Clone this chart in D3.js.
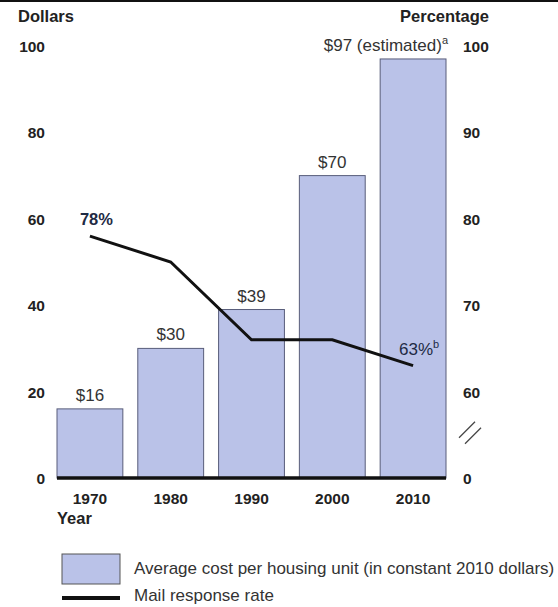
<!DOCTYPE html>
<html>
<head>
<meta charset="utf-8">
<script src="https://cdn.jsdelivr.net/npm/d3@7"></script>
<style>
  body { margin: 0; background: #fff; }
  svg text { font-family: "Liberation Sans", Arial, sans-serif; fill: #222; }
</style>
</head>
<body>
<div id="chart"></div>
<script>
// values
const years = ['1970', '1980', '1990', '2000', '2010'];
const costPerUnit = [16, 30, 39, 70, 97];
const costLabels = ['$16', '$30', '$39', '$70', '$97 (estimated)'];
const costNotes = ['', '', '', '', 'a'];
const responseRate = [78, 75, 66, 66, 63];
const rateLabels = ['78%', '', '', '', '63%'];
const rateNotes = ['', '', '', '', 'b'];
const dollarTicks = [0, 20, 40, 60, 80, 100];
const percentTicks = [60, 70, 80, 90, 100];

const width = 558;
const height = 607;
const plot = { left: 57, right: 446, top: 46, bottom: 478 };

const svg = d3.select('#chart')
  .append('svg')
  .attr('width', width)
  .attr('height', height)
  .attr('viewBox', `0 0 ${width} ${height}`);

// thin rule across the top of the figure
svg.append('line')
  .attr('x1', 0).attr('x2', width)
  .attr('y1', 1).attr('y2', 1)
  .attr('stroke', '#111')
  .attr('stroke-width', 2);

const x = d3.scaleBand()
  .domain(years)
  .range([plot.left, plot.right])
  .paddingInner(0.185)
  .paddingOuter(0);

const y = d3.scaleLinear()
  .domain([0, 100])
  .range([plot.bottom, plot.top]);

// right axis is broken: 60-100 share the pixels of $20-$100
const y2 = d3.scaleLinear()
  .domain([60, 100])
  .range([y(20), y(100)]);

// axis titles
svg.append('text')
  .attr('x', 18).attr('y', 22)
  .attr('font-size', 16.5).attr('font-weight', 'bold')
  .text('Dollars');

svg.append('text')
  .attr('x', 489).attr('y', 22)
  .attr('text-anchor', 'end')
  .attr('font-size', 16.5).attr('font-weight', 'bold')
  .text('Percentage');

// left axis
const leftAxis = svg.append('g')
  .attr('transform', `translate(${plot.left - 12},0)`)
  .call(d3.axisLeft(y).tickValues(dollarTicks).tickSize(0).tickPadding(0));
leftAxis.select('.domain').remove();
leftAxis.selectAll('text')
  .attr('font-size', 15.5).attr('font-weight', 'bold')
  .attr('fill', '#222').attr('dy', '0.36em');

// right axis
const rightAxis = svg.append('g')
  .attr('transform', 'translate(463,0)')
  .call(d3.axisRight(y2).tickValues(percentTicks).tickSize(0).tickPadding(0));
rightAxis.select('.domain').remove();
rightAxis.selectAll('text')
  .attr('font-size', 15.5).attr('font-weight', 'bold')
  .attr('fill', '#222').attr('dy', '0.36em');

svg.append('text')
  .attr('x', 463).attr('y', y(0))
  .attr('dy', '0.36em')
  .attr('font-size', 15.5).attr('font-weight', 'bold')
  .text('0');

// axis break marker
const breakY = (y2(60) + y(0)) / 2 - 2;
[-3, 3].forEach(off => {
  svg.append('line')
    .attr('x1', 462 + off).attr('y1', breakY + 8 + off)
    .attr('x2', 478 + off).attr('y2', breakY - 8 + off)
    .attr('stroke', '#444')
    .attr('stroke-width', 1.3);
});

// bars
const bars = years.map((d, i) => ({ year: d, value: costPerUnit[i], label: costLabels[i], note: costNotes[i] }));

svg.append('g')
  .selectAll('rect')
  .data(bars)
  .join('rect')
  .attr('x', d => x(d.year))
  .attr('y', d => y(d.value))
  .attr('width', x.bandwidth())
  .attr('height', d => y(0) - y(d.value))
  .attr('fill', '#bac2e8')
  .attr('stroke', '#585d7a')
  .attr('stroke-width', 1);

// the estimated label is too wide to centre, so it hangs off the bar's right edge
const barLabels = svg.append('g')
  .selectAll('text')
  .data(bars)
  .join('text')
  .attr('x', d => (d.note ? x(d.year) + x.bandwidth() + 2 : x(d.year) + x.bandwidth() / 2))
  .attr('y', d => y(d.value) - 8)
  .attr('text-anchor', d => (d.note ? 'end' : 'middle'))
  .attr('font-size', 17)
  .style('fill', '#333');

barLabels.append('tspan').text(d => d.label);
barLabels.append('tspan')
  .attr('font-size', 11)
  .attr('dy', '-0.6em')
  .text(d => d.note);

// baseline
svg.append('line')
  .attr('x1', plot.left).attr('x2', plot.right)
  .attr('y1', y(0)).attr('y2', y(0))
  .attr('stroke', '#111')
  .attr('stroke-width', 3.5);

// mail response line
const rate = years.map((d, i) => ({ year: d, value: responseRate[i], label: rateLabels[i], note: rateNotes[i] }));

const line = d3.line()
  .x(d => x(d.year) + x.bandwidth() / 2)
  .y(d => y2(d.value));

svg.append('path')
  .datum(rate)
  .attr('d', line)
  .attr('fill', 'none')
  .attr('stroke', '#111')
  .attr('stroke-width', 3);

const rateText = svg.append('g')
  .selectAll('text')
  .data(rate.filter(d => d.label))
  .join('text')
  .attr('x', (d, i) => x(d.year) + x.bandwidth() / 2 - (i === 0 ? 10 : 14))
  .attr('y', d => y2(d.value) - 11)
  .attr('font-size', (d, i) => (i === 0 ? 16.5 : 17))
  .attr('font-weight', (d, i) => (i === 0 ? 'bold' : 'normal'))
  .style('fill', '#1e2a44');

rateText.append('tspan').text(d => d.label);
rateText.append('tspan')
  .attr('font-size', 11)
  .attr('dy', '-0.6em')
  .text(d => d.note);

// year labels
const bottomAxis = svg.append('g')
  .attr('transform', `translate(0,${y(0) + 12})`)
  .call(d3.axisBottom(x).tickSize(0).tickPadding(0));
bottomAxis.select('.domain').remove();
bottomAxis.selectAll('text')
  .attr('font-size', 15.5).attr('font-weight', 'bold')
  .attr('fill', '#222').attr('dy', '0.9em');

svg.append('text')
  .attr('x', plot.left).attr('y', 524)
  .attr('font-size', 16.5).attr('font-weight', 'bold')
  .text('Year');

// legend (kept just inside the bottom edge so the last line isn't clipped)
const legend = svg.append('g').attr('transform', 'translate(62,554)');

legend.append('rect')
  .attr('width', 58).attr('height', 30)
  .attr('fill', '#bac2e8')
  .attr('stroke', '#555')
  .attr('stroke-width', 1);

legend.append('text')
  .attr('x', 72).attr('y', 20)
  .attr('font-size', 17)
  .style('fill', '#333')
  .text('Average cost per housing unit (in constant 2010 dollars)');

legend.append('line')
  .attr('x1', 0).attr('x2', 58)
  .attr('y1', 44).attr('y2', 44)
  .attr('stroke', '#111')
  .attr('stroke-width', 4);

legend.append('text')
  .attr('x', 72).attr('y', 47)
  .attr('font-size', 17)
  .style('fill', '#333')
  .text('Mail response rate');
</script>
</body>
</html>
